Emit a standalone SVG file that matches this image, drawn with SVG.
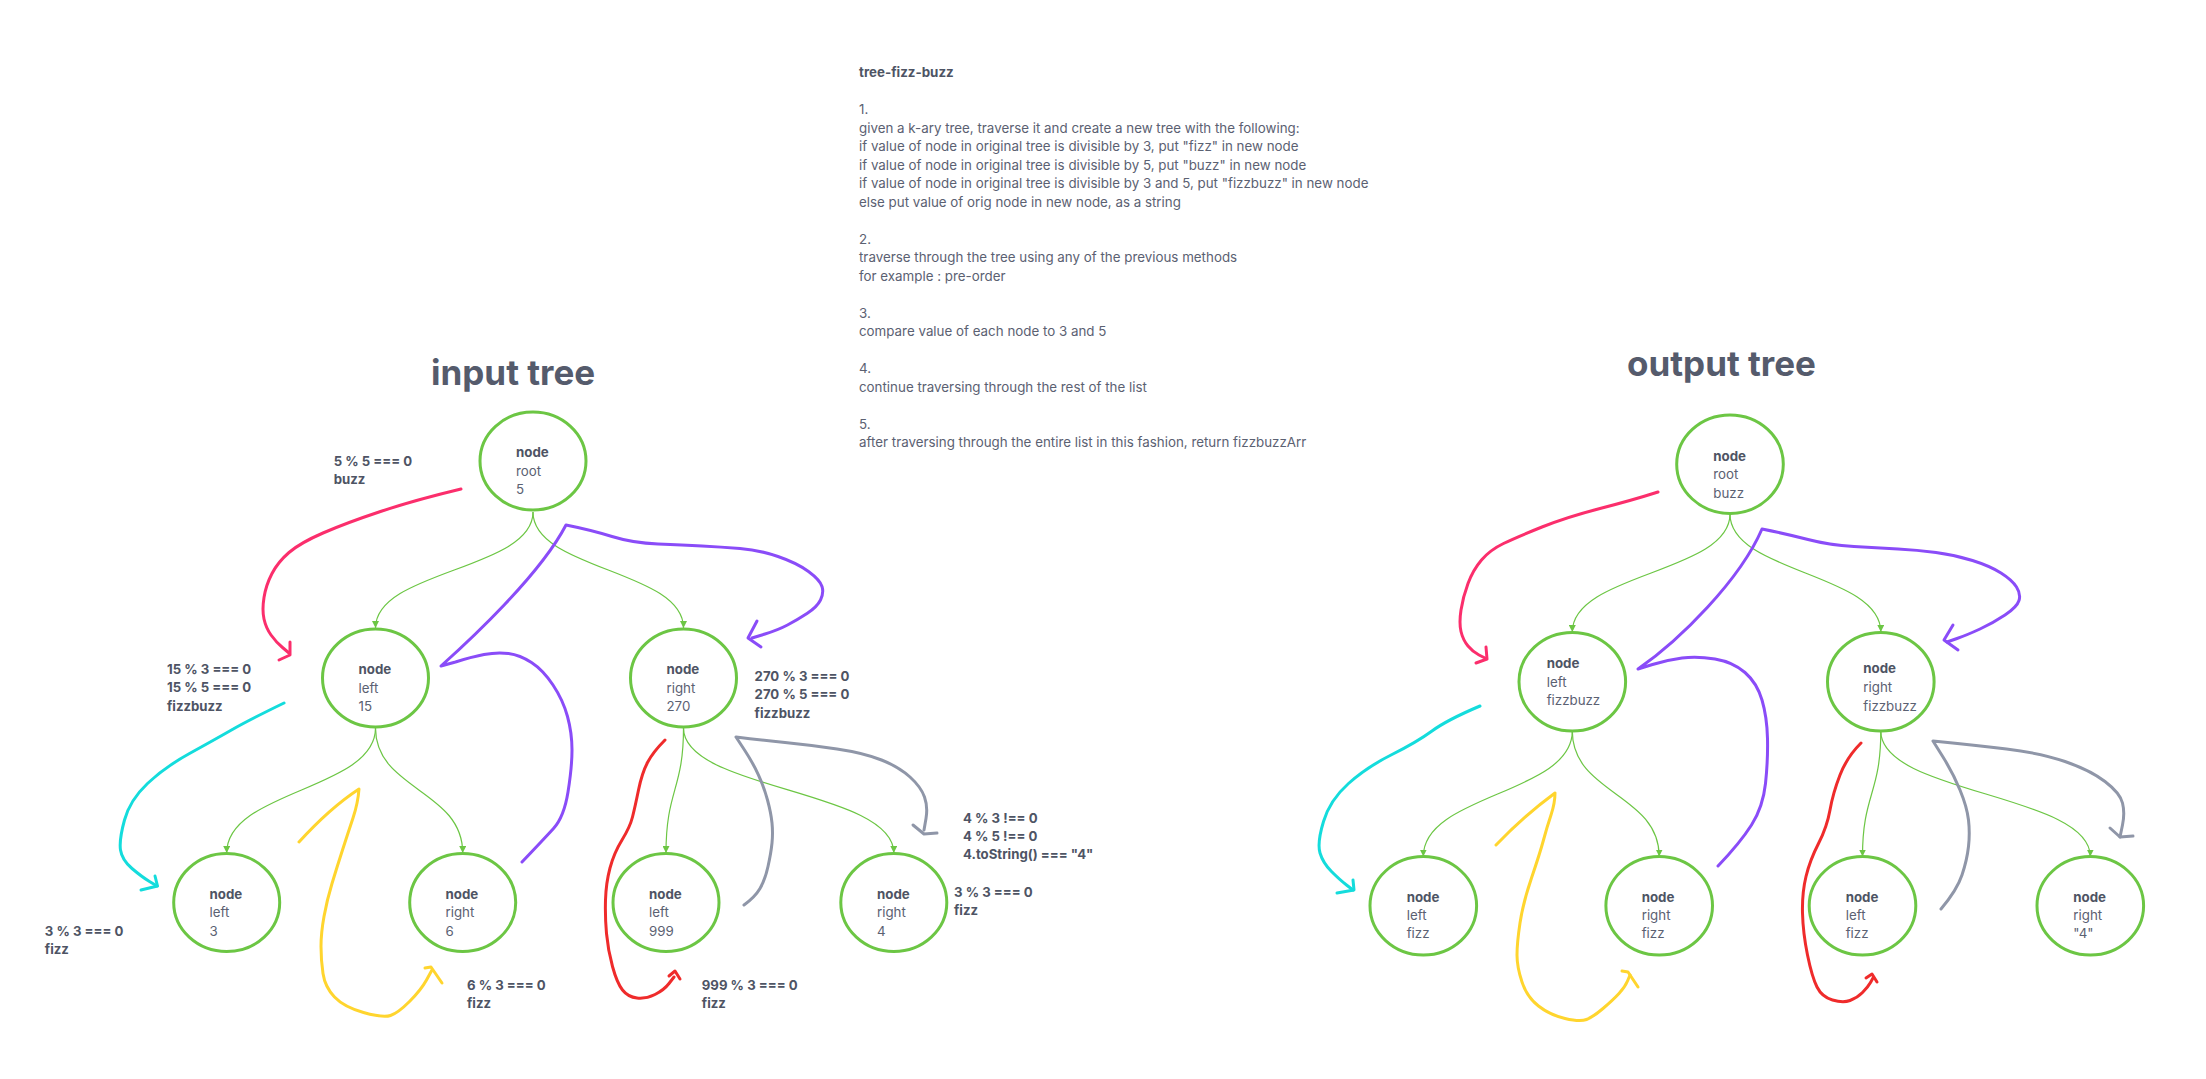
<svg xmlns="http://www.w3.org/2000/svg" width="2206" height="1079" viewBox="0 0 2206 1079">
<defs>
<marker id="ah" viewBox="0 0 10 10" refX="10" refY="5" markerWidth="7" markerHeight="7" markerUnits="userSpaceOnUse" orient="auto">
<path d="M0,0 L10,5 L0,10 z" fill="#6cc644"/>
</marker>
</defs>
<style>
text{font-family:Inter,"Liberation Sans",sans-serif;}
.desc{font-size:13.35px;fill:#5b6172;}
.descb{font-size:13.35px;font-weight:bold;fill:#4e5464;}
.title{font-size:35px;font-weight:bold;fill:#555b6c;}
.nb{font-size:13.3px;font-weight:bold;fill:#4e5464;}
.nt{font-size:13.3px;fill:#5b6172;}
.lab{font-size:13.2px;font-weight:bold;fill:#4e5464;}
.node{fill:none;stroke:#6cc644;stroke-width:3;}
.edge{fill:none;stroke:#6cc644;stroke-width:1.2;marker-end:url(#ah);}
.pen{fill:none;stroke-width:3;stroke-linecap:round;stroke-linejoin:round;}
.pink{stroke:#fb2e6c;}
.cyan{stroke:#14dcdc;}
.yellow{stroke:#ffd52e;}
.purple{stroke:#8a4cf8;}
.red{stroke:#ef2b2b;}
.gray{stroke:#8f96a8;}
</style>
<rect width="2206" height="1079" fill="#ffffff"/>

<g id="description">
<text class="descb" x="859" y="77">tree-fizz-buzz</text>
<text class="desc" x="859" y="114">1.</text>
<text class="desc" x="859" y="132.5">given a k-ary tree, traverse it and create a new tree with the following:</text>
<text class="desc" x="859" y="151">if value of node in original tree is divisible by 3, put "fizz" in new node</text>
<text class="desc" x="859" y="169.5">if value of node in original tree is divisible by 5, put "buzz" in new node</text>
<text class="desc" x="859" y="188">if value of node in original tree is divisible by 3 and 5, put "fizzbuzz" in new node</text>
<text class="desc" x="859" y="206.5">else put value of orig node in new node, as a string</text>
<text class="desc" x="859" y="243.5">2.</text>
<text class="desc" x="859" y="262">traverse through the tree using any of the previous methods</text>
<text class="desc" x="859" y="280.5">for example : pre-order</text>
<text class="desc" x="859" y="317.5">3.</text>
<text class="desc" x="859" y="336">compare value of each node to 3 and 5</text>
<text class="desc" x="859" y="373">4.</text>
<text class="desc" x="859" y="391.5">continue traversing through the rest of the list</text>
<text class="desc" x="859" y="428.5">5.</text>
<text class="desc" x="859" y="447">after traversing through the entire list in this fashion, return fizzbuzzArr</text>
</g>

<text class="title" x="431" y="385">input tree</text>
<text class="title" x="1627" y="376">output tree</text>

<g id="connectors">
<path class="edge" d="M533,512 C533,570 375.5,570 375.5,628"/>
<path class="edge" d="M533,512 C533,570 683.5,570 683.5,628"/>
<path class="edge" d="M375.5,728 C375.5,790 226.7,790 226.7,853"/>
<path class="edge" d="M375.5,728 C375.5,790 462.7,790 462.7,853"/>
<path class="edge" d="M683.5,728 C683.5,790 666,790 666,853"/>
<path class="edge" d="M683.5,728 C683.5,790 893.8,790 893.8,853"/>

<path class="edge" d="M1730,514 C1730,573 1572.3,573 1572.3,632"/>
<path class="edge" d="M1730,514 C1730,573 1880.8,573 1880.8,632"/>
<path class="edge" d="M1572.3,731 C1572.3,794 1423.3,794 1423.3,856.5"/>
<path class="edge" d="M1572.3,731 C1572.3,794 1659.2,794 1659.2,856.5"/>
<path class="edge" d="M1880.8,731 C1880.8,794 1862.5,794 1862.5,856.5"/>
<path class="edge" d="M1880.8,731 C1880.8,794 2090.3,794 2090.3,856.5"/>

<!-- input tree pen strokes -->
<path class="pen pink" d="M461,489 Q415,500 380.5,511.5 Q346,523 323,533 Q300,543 289,552.5 Q278,562 272,573.5 Q266,585 264,597.5 Q262,610 264,619 Q266,628 271,635 Q276,642 282.5,647.5 L289,653"/>
<path class="pen pink" d="M290,642 L290,655 L279,660"/>
<path class="pen cyan" d="M284,703 Q249,720 231.5,730 Q214,740 189.5,753.5 Q165,767 147.5,783.5 Q130,800 124.5,820 Q119,840 120.5,850 Q122,860 132,868.5 Q142,877 149.5,881.5 L157,886"/>
<path class="pen cyan" d="M155,876 L157.5,886 L141,890"/>
<path class="pen yellow" d="M299,842 Q330,808 359,789 Q358,803 353,818 Q348,833 342.5,850 Q337,867 332,883.5 Q327,900 324,916.5 Q321,933 321,946.5 Q321,960 323,973.5 Q325,987 334.5,997 Q344,1007 363.5,1012.5 Q383,1018 390.5,1015.5 Q398,1013 409.5,1001.5 Q421,990 426.5,980 L432,970"/>
<path class="pen yellow" d="M425,968 L431,967 L442,983"/>
<path class="pen purple" d="M522,862 Q543,840 553.5,828.5 Q564,817 568,792 Q572,767 572,750 Q572,733 567.5,716.5 Q563,700 553,685 Q543,670 531.5,662.5 Q520,655 508.5,653.5 Q497,652 484,654.5 Q471,657 455.5,662 L441,666 C470,640 540,575 566,525 Q591,530 612,536.5 Q633,543 658,544 Q683,545 702,546 Q721,547 740,548.5 Q759,550 778,556.5 Q797,563 808.5,571.5 Q820,580 822,586.5 Q824,593 820.5,600 Q817,607 807,613.5 Q797,620 787.5,625 Q778,630 765,634 L752,638"/>
<path class="pen purple" d="M757,621 L748,638 L761,647"/>
<path class="pen red" d="M665,740 Q653,752 647.5,762.5 Q642,773 638.5,790 Q635,807 632.5,817 Q630,827 622,840 Q614,853 610,868 Q606,883 605.5,900 Q605,917 606.5,933.5 Q608,950 612.5,966.5 Q617,983 622.5,990 Q628,997 637,998 Q646,999 655,994.5 Q664,990 669,983.5 L674,977"/>
<path class="pen red" d="M669,976 L675,971 L680,979"/>
<path class="pen gray" d="M744,905 Q755,897 760,888.5 Q765,880 768,866.5 Q771,853 772,843 Q773,833 772,823 Q771,813 767.5,800 Q764,787 758.5,775 Q753,763 744.5,750 L736,737 Q760,740 785,742.5 Q810,745 837,749 Q864,753 881.5,760 Q899,767 910,777 Q921,787 924.5,797 Q928,807 926,818.5 L924,830"/>
<path class="pen gray" d="M913,825 L924,834 L937,833"/>

<!-- output tree pen strokes -->
<path class="pen pink" d="M1658,492 Q1633,500 1600,508.5 Q1567,517 1542,527 Q1517,537 1503.5,543.5 Q1490,550 1481.5,560 Q1473,570 1468,583.5 Q1463,597 1461,610 Q1459,623 1461,631.5 Q1463,640 1468,646 Q1473,652 1479,655 L1485,658"/>
<path class="pen pink" d="M1486,647 L1487,659 L1476,663"/>
<path class="pen cyan" d="M1480,706 Q1447,720 1432,731 Q1417,742 1392,754.5 Q1367,767 1348.5,783.5 Q1330,800 1323.5,821.5 Q1317,843 1320,853 Q1323,863 1331.5,871.5 Q1340,880 1346.5,885 L1353,890"/>
<path class="pen cyan" d="M1353,880 L1354,890 L1337,893"/>
<path class="pen yellow" d="M1496,845 Q1525,815 1555,793 Q1555,803 1551,815 Q1547,827 1543.5,840 Q1540,853 1531.5,878 Q1523,903 1520,923 Q1517,943 1517,955 Q1517,967 1522,982 Q1527,997 1538.5,1006 Q1550,1015 1565,1018.5 Q1580,1022 1586.5,1019.5 Q1593,1017 1603,1008.5 Q1613,1000 1619,993.5 Q1625,987 1627.5,981 L1630,975"/>
<path class="pen yellow" d="M1622,971 L1628,972 L1638,987"/>
<path class="pen purple" d="M1718,866 Q1740,843 1751.5,825 Q1763,807 1765.5,783.5 Q1768,760 1767.5,738.5 Q1767,717 1762,700 Q1757,683 1745,672.5 Q1733,662 1715,659 Q1697,656 1682,658 Q1667,660 1652.5,664.5 L1638,669 C1680,640 1740,580 1762,529 Q1787,534 1808,539.5 Q1829,545 1854,546.5 Q1879,548 1898,549 Q1917,550 1936,552.5 Q1955,555 1972.5,560.5 Q1990,566 2001,573 Q2012,580 2016.5,587 Q2021,594 2019,600.5 Q2017,607 2005,615 Q1993,623 1980,629 Q1967,635 1957,638.5 L1947,642"/>
<path class="pen purple" d="M1953,625 L1944,640 L1958,650"/>
<path class="pen red" d="M1861,743 Q1847,757 1840,775 Q1833,793 1830,810 Q1827,827 1818.5,843.5 Q1810,860 1806,876.5 Q1802,893 1802.5,913 Q1803,933 1807.5,955 Q1812,977 1817,987 Q1822,997 1832.5,1000 Q1843,1003 1850,1000.5 Q1857,998 1862.5,992.5 Q1868,987 1870.5,982.5 L1873,978"/>
<path class="pen red" d="M1866,978 L1872,974 L1877,982"/>
<path class="pen gray" d="M1941,909 Q1957,890 1962,875 Q1967,860 1968.5,846.5 Q1970,833 1968.5,820 Q1967,807 1960,790 Q1953,773 1943,757 L1933,741 Q1973,745 2006.5,749 Q2040,753 2065,761.5 Q2090,770 2105,781.5 Q2120,793 2122.5,803 Q2125,813 2122.5,825 L2120,837"/>
<path class="pen gray" d="M2110,828 L2120,837 L2133,836"/>
</g>

<!-- input tree nodes -->
<g id="in-root">
<ellipse class="node" cx="533" cy="461" rx="53" ry="49"/>
<text class="nb" x="516" y="457">node</text>
<text class="nt" x="516" y="475.5">root</text>
<text class="nt" x="516" y="494">5</text>
</g>
<g id="in-left-15">
<ellipse class="node" cx="375.5" cy="678" rx="53" ry="49"/>
<text class="nb" x="358.5" y="674">node</text>
<text class="nt" x="358.5" y="692.5">left</text>
<text class="nt" x="358.5" y="711">15</text>
</g>
<g id="in-right-270">
<ellipse class="node" cx="683.5" cy="678" rx="53" ry="49"/>
<text class="nb" x="666.5" y="674">node</text>
<text class="nt" x="666.5" y="692.5">right</text>
<text class="nt" x="666.5" y="711">270</text>
</g>
<g id="in-left-3">
<ellipse class="node" cx="226.7" cy="902.5" rx="53" ry="49"/>
<text class="nb" x="209.5" y="898.5">node</text>
<text class="nt" x="209.5" y="917">left</text>
<text class="nt" x="209.5" y="935.5">3</text>
</g>
<g id="in-right-6">
<ellipse class="node" cx="462.7" cy="902.5" rx="53" ry="49"/>
<text class="nb" x="445.5" y="898.5">node</text>
<text class="nt" x="445.5" y="917">right</text>
<text class="nt" x="445.5" y="935.5">6</text>
</g>
<g id="in-left-999">
<ellipse class="node" cx="666" cy="902.5" rx="53" ry="49"/>
<text class="nb" x="649" y="898.5">node</text>
<text class="nt" x="649" y="917">left</text>
<text class="nt" x="649" y="935.5">999</text>
</g>
<g id="in-right-4">
<ellipse class="node" cx="893.8" cy="902.5" rx="53" ry="49"/>
<text class="nb" x="877" y="898.5">node</text>
<text class="nt" x="877" y="917">right</text>
<text class="nt" x="877" y="935.5">4</text>
</g>

<!-- output tree nodes -->
<g id="out-root">
<ellipse class="node" cx="1730" cy="464.2" rx="53.3" ry="49.2"/>
<text class="nb" x="1713.3" y="460.7">node</text>
<text class="nt" x="1713.3" y="479">root</text>
<text class="nt" x="1713.3" y="497.7">buzz</text>
</g>
<g id="out-left">
<ellipse class="node" cx="1572.3" cy="681.7" rx="53.3" ry="49.3"/>
<text class="nb" x="1546.7" y="668.3">node</text>
<text class="nt" x="1546.7" y="686.5">left</text>
<text class="nt" x="1546.7" y="705">fizzbuzz</text>
</g>
<g id="out-right">
<ellipse class="node" cx="1880.8" cy="681.7" rx="53.3" ry="49.3"/>
<text class="nb" x="1863.3" y="673.3">node</text>
<text class="nt" x="1863.3" y="691.7">right</text>
<text class="nt" x="1863.3" y="710.7">fizzbuzz</text>
</g>
<g id="out-left-left">
<ellipse class="node" cx="1423.3" cy="905.8" rx="53.3" ry="49.2"/>
<text class="nb" x="1406.7" y="901.7">node</text>
<text class="nt" x="1406.7" y="919.5">left</text>
<text class="nt" x="1406.7" y="938.3">fizz</text>
</g>
<g id="out-left-right">
<ellipse class="node" cx="1659.2" cy="905.8" rx="53.3" ry="49.2"/>
<text class="nb" x="1641.7" y="901.7">node</text>
<text class="nt" x="1641.7" y="919.5">right</text>
<text class="nt" x="1641.7" y="938.3">fizz</text>
</g>
<g id="out-right-left">
<ellipse class="node" cx="1862.5" cy="905.8" rx="53.3" ry="49.2"/>
<text class="nb" x="1845.7" y="901.7">node</text>
<text class="nt" x="1845.7" y="919.5">left</text>
<text class="nt" x="1845.7" y="938.3">fizz</text>
</g>
<g id="out-right-right">
<ellipse class="node" cx="2090.3" cy="905.8" rx="53.3" ry="49.2"/>
<text class="nb" x="2073.3" y="901.7">node</text>
<text class="nt" x="2073.3" y="919.5">right</text>
<text class="nt" x="2073.3" y="938.3">"4"</text>
</g>

<g id="labels">
<text class="lab" x="333.7" y="466">5 % 5 === 0</text>
<text class="lab" x="333.7" y="484">buzz</text>
<text class="lab" x="167" y="674">15 % 3 === 0</text>
<text class="lab" x="167" y="692">15 % 5 === 0</text>
<text class="lab" x="167" y="710.5">fizzbuzz</text>
<text class="lab" x="754.6" y="680.7">270 % 3 === 0</text>
<text class="lab" x="754.6" y="699">270 % 5 === 0</text>
<text class="lab" x="754.6" y="717.7">fizzbuzz</text>
<text class="lab" x="44.8" y="936">3 % 3 === 0</text>
<text class="lab" x="44.8" y="954">fizz</text>
<text class="lab" x="467" y="990">6 % 3 === 0</text>
<text class="lab" x="467" y="1008">fizz</text>
<text class="lab" x="701.8" y="990">999 % 3 === 0</text>
<text class="lab" x="701.8" y="1008">fizz</text>
<text class="lab" x="963" y="822.7">4 % 3 !== 0</text>
<text class="lab" x="963" y="840.7">4 % 5 !== 0</text>
<text class="lab" x="963" y="859.3">4.toString() === "4"</text>
<text class="lab" x="954" y="896.7">3 % 3 === 0</text>
<text class="lab" x="954" y="915">fizz</text>
</g>
</svg>
